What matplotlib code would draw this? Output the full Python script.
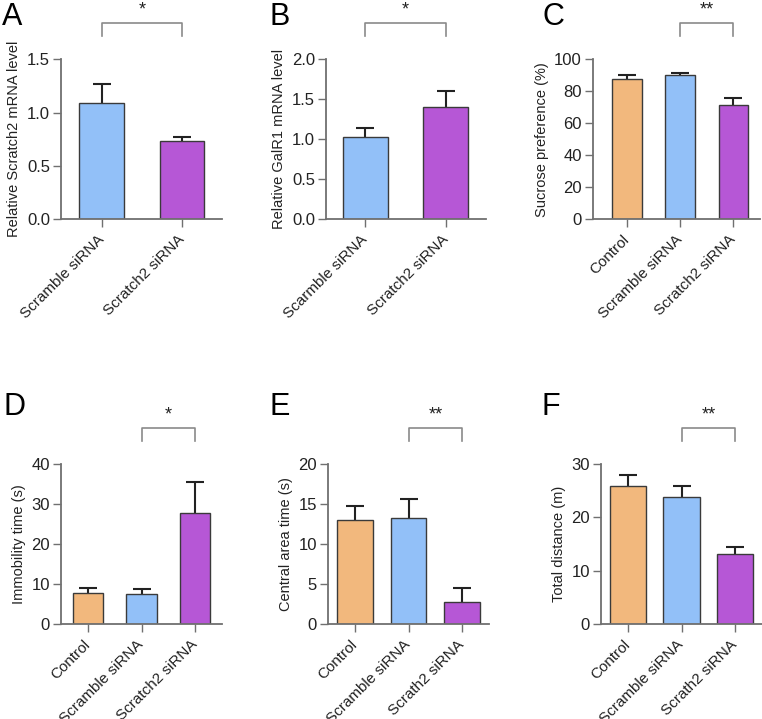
import matplotlib
matplotlib.use("Agg")
import matplotlib.pyplot as plt
import matplotlib.transforms as mtransforms

plt.rcParams['font.family'] = ['Liberation Sans', 'DejaVu Sans']

# ---- data ----
cats_A = ["Scramble siRNA", "Scratch2 siRNA"]
vals_A = [1.09, 0.73]
errs_A = [0.18, 0.045]

cats_B = ["Scarmble siRNA", "Scratch2 siRNA"]
vals_B = [1.03, 1.40]
errs_B = [0.11, 0.20]

cats_C = ["Control", "Scramble siRNA", "Scratch2 siRNA"]
vals_C = [87.7, 90.0, 71.6]
errs_C = [2.7, 1.2, 4.3]

cats_D = ["Control", "Scramble siRNA", "Scratch2 siRNA"]
vals_D = [7.9, 7.5, 27.8]
errs_D = [1.2, 1.2, 7.8]

cats_E = ["Control", "Scramble siRNA", "Scrath2 siRNA"]
vals_E = [13.0, 13.25, 2.75]
errs_E = [1.7, 2.35, 1.75]

cats_F = ["Control", "Scramble siRNA", "Scrath2 siRNA"]
vals_F = [25.8, 23.8, 13.1]
errs_F = [2.2, 2.0, 1.4]

ORANGE = "#F2B87D"
BLUE = "#92C0F8"
PURPLE = "#B657D6"

W, H = 762, 719
fig = plt.figure(figsize=(W / 100, H / 100), dpi=100)


def make_ax(l, r, top, bottom):
    return fig.add_axes([l / W, 1 - bottom / H, (r - l) / W, (bottom - top) / H])


def panel(ax, cats, vals, errs, colors, ylim, yticks, yticklabels, ylabel,
          xlim, width, sig, letter, letter_xy):
    x = list(range(len(cats)))
    ax.bar(x, vals, width=width, color=colors, edgecolor="#3a3a3a", linewidth=1.0, zorder=2)
    eb = ax.errorbar(x, vals, yerr=[[0] * len(errs), errs], fmt="none", ecolor="#222222",
                     elinewidth=1.5, capsize=6.5, capthick=1.5, zorder=1)
    # hide the lower caps (only the upper half of the error bar is shown)
    caps = eb[1]
    if len(caps) == 2:
        caps[0].set_visible(False)
    ax.set_ylim(*ylim)
    ax.set_xlim(*xlim)
    ax.set_yticks(yticks)
    ax.set_yticklabels(yticklabels, fontsize=12, color="#222222")
    ax.set_xticks(x)
    ax.set_xticklabels(cats, rotation=45, ha="right", va="center",
                       rotation_mode="anchor", fontsize=11, color="#222222")
    ax.set_ylabel(ylabel, fontsize=10.5, labelpad=4, color="#222222")
    for s in ["top", "right"]:
        ax.spines[s].set_visible(False)
    for s in ["left", "bottom"]:
        ax.spines[s].set_color("#707070")
        ax.spines[s].set_linewidth(1.3)
    ax.tick_params(axis="y", length=6, width=1.0, color="#707070", pad=2)
    ax.tick_params(axis="x", length=6, width=1.0, color="#707070", pad=7)
    # significance bracket
    i0, i1, txt = sig
    trans = mtransforms.blended_transform_factory(ax.transData, ax.transAxes)
    ytop = 1.225
    ybot = 1.145
    ax.plot([i0, i0, i1, i1], [ybot, ytop, ytop, ybot], transform=trans,
            color="#8a8a8a", lw=1.2, clip_on=False)
    ax.annotate(txt, xy=((i0 + i1) / 2, ytop), xycoords=trans,
                xytext=(0, 6), textcoords="offset points",
                ha="center", va="baseline", fontsize=13, color="#222222")
    fig.text(letter_xy[0] / W, 1 - letter_xy[1] / H, letter, fontsize=22,
             ha="left", va="baseline", color="black")


axA = make_ax(61, 222, 59.3, 219.3)
panel(axA, cats_A, vals_A, errs_A, [BLUE, PURPLE], (0, 1.5),
      [0, 0.5, 1.0, 1.5], ["0.0", "0.5", "1.0", "1.5"],
      "Relative Scratch2 mRNA level", (-0.51, 1.5), 0.56, (0, 1, "*"), "A", (2, 25))

axB = make_ax(326, 486, 59.3, 219.3)
panel(axB, cats_B, vals_B, errs_B, [BLUE, PURPLE], (0, 2.0),
      [0, 0.5, 1.0, 1.5, 2.0], ["0.0", "0.5", "1.0", "1.5", "2.0"],
      "Relative GalR1 mRNA level", (-0.49, 1.5), 0.56, (0, 1, "*"), "B", (269, 25))

axC = make_ax(593, 760, 59.3, 219.3)
panel(axC, cats_C, vals_C, errs_C, [ORANGE, BLUE, PURPLE], (0, 100),
      [0, 20, 40, 60, 80, 100], ["0", "20", "40", "60", "80", "100"],
      "Sucrose preference (%)", (-0.64, 2.5), 0.56, (1, 2, "**"), "C", (542, 25))

axD = make_ax(61, 222, 464, 624.3)
panel(axD, cats_D, vals_D, errs_D, [ORANGE, BLUE, PURPLE], (0, 40),
      [0, 10, 20, 30, 40], ["0", "10", "20", "30", "40"],
      "Immobility time (s)", (-0.5, 2.5), 0.56, (1, 2, "*"), "D", (3, 415))

axE = make_ax(328, 489, 464, 624.3)
panel(axE, cats_E, vals_E, errs_E, [ORANGE, BLUE, PURPLE], (0, 20),
      [0, 5, 10, 15, 20], ["0", "5", "10", "15", "20"],
      "Central area time (s)", (-0.5, 2.5), 0.66, (1, 2, "**"), "E", (269, 415))

axF = make_ax(601, 762, 464, 624.3)
panel(axF, cats_F, vals_F, errs_F, [ORANGE, BLUE, PURPLE], (0, 30),
      [0, 10, 20, 30], ["0", "10", "20", "30"],
      "Total distance (m)", (-0.5, 2.5), 0.68, (1, 2, "**"), "F", (542, 415))

fig.savefig("out.png", dpi=100, facecolor="white")
